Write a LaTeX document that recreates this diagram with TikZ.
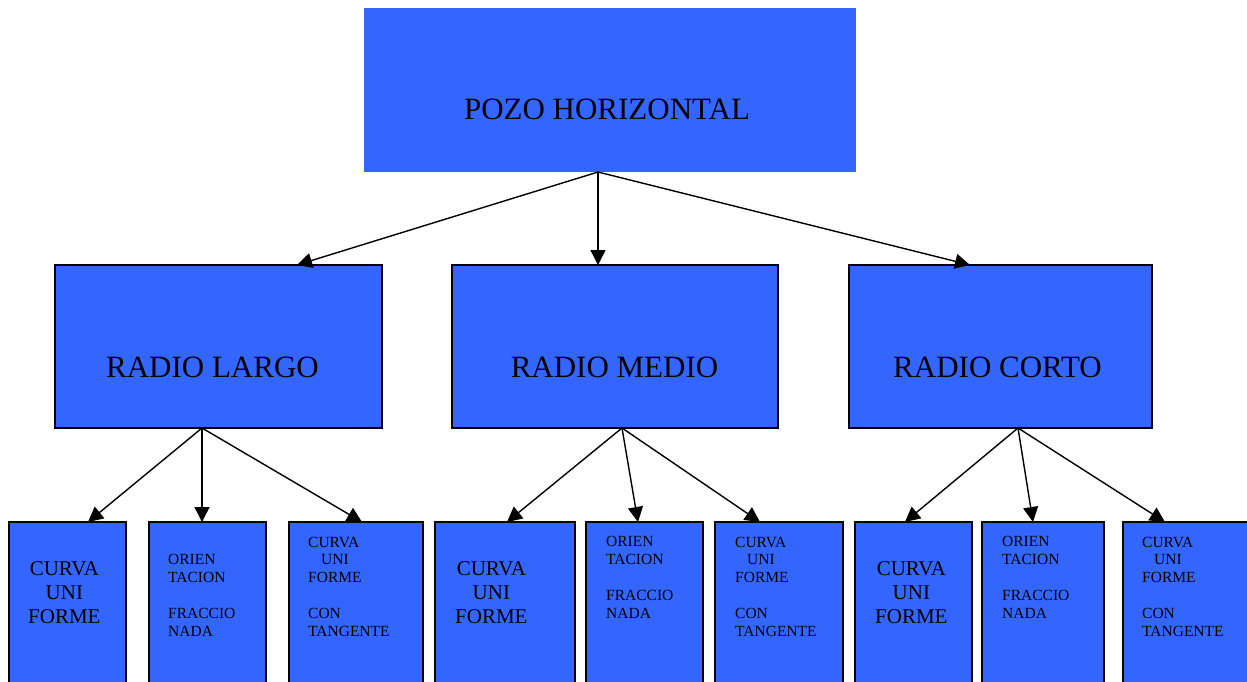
\documentclass[tikz,border=0pt]{standalone}
\usepackage{fontspec}
\setmainfont{Liberation Serif}
\usetikzlibrary{arrows.meta}
\definecolor{boxblue}{RGB}{51,102,255}
\begin{document}
\begin{tikzpicture}[x=1pt,y=-1pt,
  topbox/.style={fill=boxblue, draw=none, inner sep=0pt, outer sep=0pt, anchor=north west},
  box/.style={fill=boxblue, draw=black, line width=1.4pt, inner sep=0pt, outer sep=0pt, anchor=north west},
  arr/.style={line width=1.4pt, -{Triangle[length=15pt,width=15pt]}},
  bigtxt/.style={font=\fontsize{31}{34}\selectfont, inner sep=0pt, anchor=base},
  midtxt/.style={font=\fontsize{21}{24}\selectfont, inner sep=0pt, anchor=base west, align=center},
  smalltxt/.style={font=\fontsize{15.5}{17.8}\selectfont, inner sep=0pt, anchor=base west, align=left}]
\useasboundingbox (0,0) rectangle (1247,682);
\clip (0,0) rectangle (1247,682);
% boxes
\node[topbox, minimum width=492pt, minimum height=164pt] (top) at (364,8) {};
\node[box, minimum width=327pt, minimum height=163pt] (rl) at (55,265) {};
\node[box, minimum width=326pt, minimum height=163pt] (rm) at (452,265) {};
\node[box, minimum width=303pt, minimum height=163pt] (rc) at (849,265) {};
\node[box, minimum width=117pt, minimum height=200pt] (b1) at (9,522) {};
\node[box, minimum width=117pt, minimum height=200pt] (b2) at (149,522) {};
\node[box, minimum width=134pt, minimum height=200pt] (b3) at (289,522) {};
\node[box, minimum width=140pt, minimum height=200pt] (b4) at (435,522) {};
\node[box, minimum width=117pt, minimum height=200pt] (b5) at (586,522) {};
\node[box, minimum width=128pt, minimum height=200pt] (b6) at (715,522) {};
\node[box, minimum width=117pt, minimum height=200pt] (b7) at (855,522) {};
\node[box, minimum width=122pt, minimum height=200pt] (b8) at (982,522) {};
\node[box, minimum width=140pt, minimum height=200pt] (b9) at (1123,522) {};
% texts (base anchor = baseline of the last line)
\node[bigtxt] (t0) at (607,120) {POZO HORIZONTAL};
\node[bigtxt] (t1) at (212.5,377) {RADIO LARGO};
\node[bigtxt] (t2) at (614.5,377) {RADIO MEDIO};
\node[bigtxt] (t3) at (997.5,377) {RADIO CORTO};
\node[midtxt] (c1) at (28,623) {CURVA\\UNI\\FORME};
\node[midtxt] (c4) at (455,623) {CURVA\\UNI\\FORME};
\node[midtxt] (c7) at (875,623) {CURVA\\UNI\\FORME};
\node[smalltxt] (o2) at (168,636) {ORIEN\\TACION\\[17.8pt]FRACCIO\\NADA};
\node[smalltxt] (o5) at (606,618) {ORIEN\\TACION\\[17.8pt]FRACCIO\\NADA};
\node[smalltxt] (o8) at (1002,618) {ORIEN\\TACION\\[17.8pt]FRACCIO\\NADA};
\node[smalltxt] (k3) at (308,636) {CURVA\\\hspace*{13pt}UNI\\FORME\\[17.8pt]CON\\TANGENTE};
\node[smalltxt] (k6) at (735,636) {CURVA\\\hspace*{12pt}UNI\\FORME\\[17.8pt]CON\\TANGENTE};
\node[smalltxt] (k9) at (1142,636) {CURVA\\\hspace*{12pt}UNI\\FORME\\[17.8pt]CON\\TANGENTE};
% connector sources
\coordinate (s0) at ([xshift=234pt]top.south west);
\coordinate (s1) at ([xshift=147pt]rl.south west);
\coordinate (s2) at ([xshift=170pt]rm.south west);
\coordinate (s3) at ([xshift=169pt]rc.south west);
% connectors
\draw[arr] (s0) -- ([xshift=242pt]rl.north west);
\draw[arr] (s0) -- ([xshift=146pt]rm.north west);
\draw[arr] (s0) -- ([xshift=121pt]rc.north west);
\draw[arr] (s1) -- ([xshift=79pt]b1.north west);
\draw[arr] (s1) -- ([xshift=53pt]b2.north west);
\draw[arr] (s1) -- ([xshift=73pt]b3.north west);
\draw[arr] (s2) -- ([xshift=72pt]b4.north west);
\draw[arr] (s2) -- ([xshift=52pt]b5.north west);
\draw[arr] (s2) -- ([xshift=45pt]b6.north west);
\draw[arr] (s3) -- ([xshift=50pt]b7.north west);
\draw[arr] (s3) -- ([xshift=51pt]b8.north west);
\draw[arr] (s3) -- ([xshift=42pt]b9.north west);
\end{tikzpicture}
\end{document}
